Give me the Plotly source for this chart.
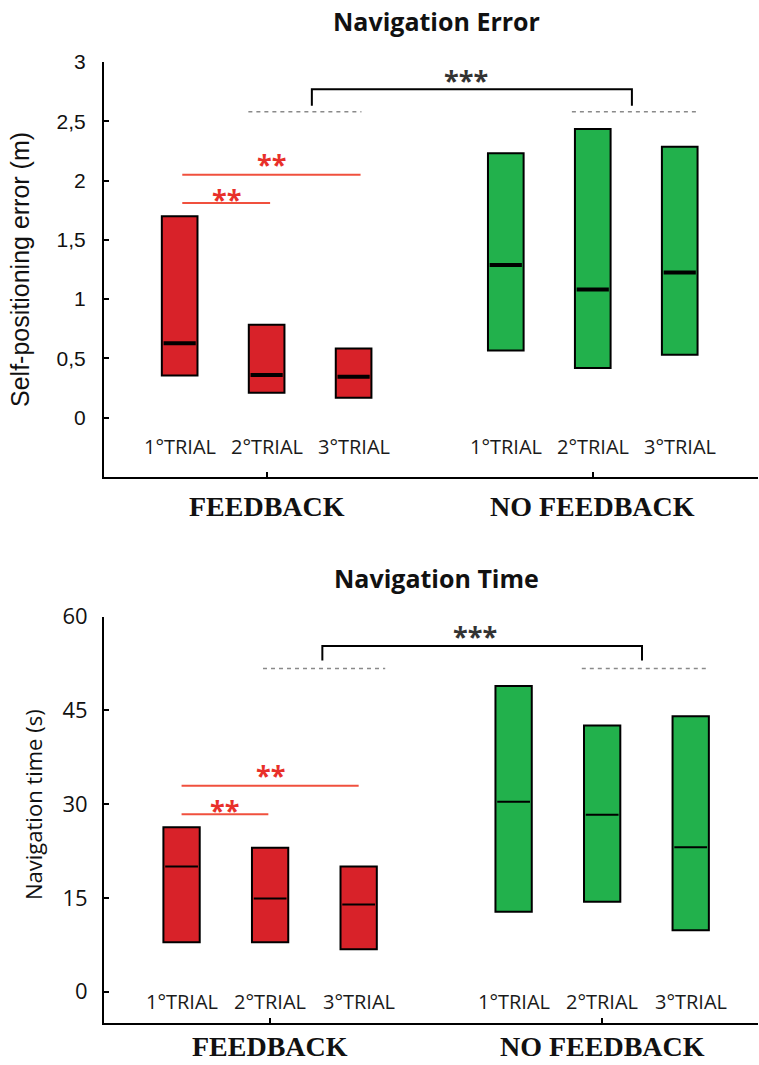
import plotly.graph_objects as go

# ---------------- data ----------------
trials = ["1°TRIAL", "2°TRIAL", "3°TRIAL"]
groups = ["FEEDBACK", "NO FEEDBACK"]

# Navigation error (m): low, median, high per trial
err_fb_low = [0.355, 0.21, 0.168]
err_fb_med = [0.628, 0.361, 0.345]
err_fb_high = [1.70, 0.784, 0.583]
err_nf_low = [0.566, 0.42, 0.532]
err_nf_med = [1.288, 1.081, 1.224]
err_nf_high = [2.23, 2.434, 2.286]

# Navigation time (s)
time_fb_low = [7.9, 7.9, 6.8]
time_fb_med = [20.05, 14.92, 13.96]
time_fb_high = [26.3, 23.05, 20.05]
time_nf_low = [12.8, 14.4, 9.85]
time_nf_med = [30.4, 28.3, 23.1]
time_nf_high = [48.9, 42.6, 44.07]

err_ticks = [0, 0.5, 1, 1.5, 2, 2.5, 3]
err_ticktext = ["0", "0,5", "1", "1,5", "2", "2,5", "3"]
time_ticks = [0, 15, 30, 45, 60]
time_ticktext = ["0", "15", "30", "45", "60"]

# significance levels
err_sig_red = [2.05, 1.81]
err_sig_red_labels = [2.18, 1.89]
err_dash = 2.58
err_bracket = [2.63, 2.77]
err_star3 = 2.89
time_sig_red = [32.95, 28.4]
time_sig_red_labels = [35.6, 29.95]
time_dash = 51.7
time_bracket = [53.0, 55.3]
time_star3 = 57.75

# ---------------- layout helpers ----------------
W, H = 759, 1065
ML, MR, MT, MB = 104, 1, 62, 42
PW, PH = W - ML - MR, H - MT - MB


def py(p):
    return (H - MB - p) / PH


def px(p):
    return (p - ML) / PW


fb_pos = [1, 2, 3]
nf_pos = [4.75, 5.75, 6.75]
BW = 0.41
RED = "#d82229"
GREEN = "#22b14c"
SIGRED = "#f0503e"
STARRED = "#e8302a"

fig = go.Figure()
shapes = []
annotations = []


def add_panel(xref, yref, lows, meds, highs, med_w):
    for pos, lo, me, hi, col in zip(fb_pos + nf_pos, lows[0] + lows[1], meds[0] + meds[1],
                                    highs[0] + highs[1], [RED] * 3 + [GREEN] * 3):
        fig.add_trace(go.Bar(x=[pos], y=[hi - lo], base=[lo], width=BW, xaxis=xref, yaxis=yref,
                             marker=dict(color=col, line=dict(color="black", width=2)),
                             showlegend=False, hoverinfo="skip"))
        fig.add_trace(go.Scatter(x=[pos - BW / 2 + 0.02, pos + BW / 2 - 0.02], y=[me, me],
                                 mode="lines", xaxis=xref, yaxis=yref,
                                 line=dict(color="black", width=med_w),
                                 showlegend=False, hoverinfo="skip"))


add_panel("x", "y", [err_fb_low, err_nf_low], [err_fb_med, err_nf_med],
          [err_fb_high, err_nf_high], 4)
add_panel("x2", "y2", [time_fb_low, time_nf_low], [time_fb_med, time_nf_med],
          [time_fb_high, time_nf_high], 2)


def sig(xref, yref, red_y, red_lbl, red_x, dash_y, dash_x, br, br_x, star_y, star_x, unit):
    for yv, (x0, x1) in zip(red_y, red_x):
        shapes.append(dict(type="line", xref=xref, yref=yref, x0=x0, x1=x1, y0=yv, y1=yv,
                           line=dict(color=SIGRED, width=2)))
    for yv, (x0, x1) in zip(red_lbl, red_x):
        annotations.append(dict(xref=xref, yref=yref, x=(x0 + x1) / 2, y=yv - unit,
                                text="<b>**</b>", showarrow=False,
                                font=dict(family="Open Sans", size=27, color=STARRED),
                                yanchor="middle"))
    for (x0, x1) in dash_x:
        shapes.append(dict(type="line", xref=xref, yref=yref, x0=x0, x1=x1, y0=dash_y, y1=dash_y,
                           line=dict(color="#8a8a8a", width=1.5, dash="4px,4px")))
    bx0, bx1 = br_x
    shapes.append(dict(type="path", xref=xref, yref=yref,
                       path=f"M {bx0},{br[0]} L {bx0},{br[1]} L {bx1},{br[1]} L {bx1},{br[0]}",
                       line=dict(color="black", width=2)))
    annotations.append(dict(xref=xref, yref=yref, x=star_x, y=star_y - unit, text="<b>***</b>",
                            showarrow=False, yanchor="middle",
                            font=dict(family="Open Sans", size=27, color="#333333")))


sig("x", "y", err_sig_red, err_sig_red_labels, [(1.03, 3.08), (1.03, 2.04)],
    err_dash, [(1.79, 3.09), (5.51, 6.94)], err_bracket, (2.52, 6.2), err_star3, 4.29, 0.04)
sig("x2", "y2", time_sig_red, time_sig_red_labels, [(1.0, 3.0), (1.0, 1.98)],
    time_dash, [(1.92, 3.30), (5.52, 6.93)], time_bracket, (2.59, 6.2), time_star3, 4.31, 0.8)

# trial labels
for xref, yref, yv in [("x", "y", -0.24), ("x2", "y2", -1.6)]:
    for pos, t in zip(fb_pos + nf_pos, trials + trials):
        annotations.append(dict(xref=xref, yref=yref, x=pos, y=yv, text=t, showarrow=False,
                                yanchor="middle",
                                font=dict(family="Open Sans", size=20, color="#1a1a1a")))

# group labels
for xref, gy in [("x", 506), ("x2", 1046)]:
    for xv, g in zip([2, 5.75], groups):
        annotations.append(dict(xref=xref, yref="paper", x=xv, y=py(gy), text=f"<b>{g}</b>",
                                showarrow=False, yanchor="middle",
                                font=dict(family="Liberation Serif", size=28, color="#111111")))

# titles
for t, ty in [("Navigation Error", 21), ("Navigation Time", 578)]:
    annotations.append(dict(xref="paper", yref="paper", x=px(436), y=py(ty), text=f"<b>{t}</b>",
                            showarrow=False, yanchor="middle",
                            font=dict(family="Open Sans", size=25, color="#111111")))

# y titles
annotations.append(dict(xref="paper", yref="paper", x=px(20), y=py(270),
                        text="Self-positioning error (m)", textangle=-90, showarrow=False,
                        xanchor="center", yanchor="middle",
                        font=dict(family="Liberation Sans", size=25, color="#111111")))
annotations.append(dict(xref="paper", yref="paper", x=px(33), y=py(805),
                        text="Navigation time (s)", textangle=-90, showarrow=False,
                        xanchor="center", yanchor="middle",
                        font=dict(family="Open Sans", size=22, color="#111111")))

axis_common = dict(showgrid=False, zeroline=False, showline=True, linecolor="black",
                   linewidth=2, ticks="inside", ticklen=5, tickcolor="black", tickwidth=1.5)

fig.update_layout(
    width=W, height=H, margin=dict(l=ML, r=MR, t=MT, b=MB),
    paper_bgcolor="white", plot_bgcolor="white", showlegend=False, barmode="overlay",
    xaxis=dict(domain=[0, 1], range=[0.13, 7.65], anchor="y", tickvals=[2, 5.75],
               showticklabels=False, **axis_common),
    yaxis=dict(domain=[py(477), 1], range=[-0.5, 3], anchor="x", tickvals=err_ticks,
               ticktext=err_ticktext, ticklabelstandoff=12,
               tickfont=dict(family="Liberation Sans", size=21, color="#111111"), **axis_common),
    xaxis2=dict(domain=[0, 1], range=[0.124, 7.51], anchor="y2", tickvals=[2, 5.75],
                showticklabels=False, **axis_common),
    yaxis2=dict(domain=[0, py(616.7)], range=[-5, 60], anchor="x2", tickvals=time_ticks,
                ticktext=time_ticktext, ticklabelstandoff=10,
                tickfont=dict(family="Open Sans", size=22, color="#111111"), **axis_common),
    shapes=shapes, annotations=annotations,
)

fig.write_html("out.html")
